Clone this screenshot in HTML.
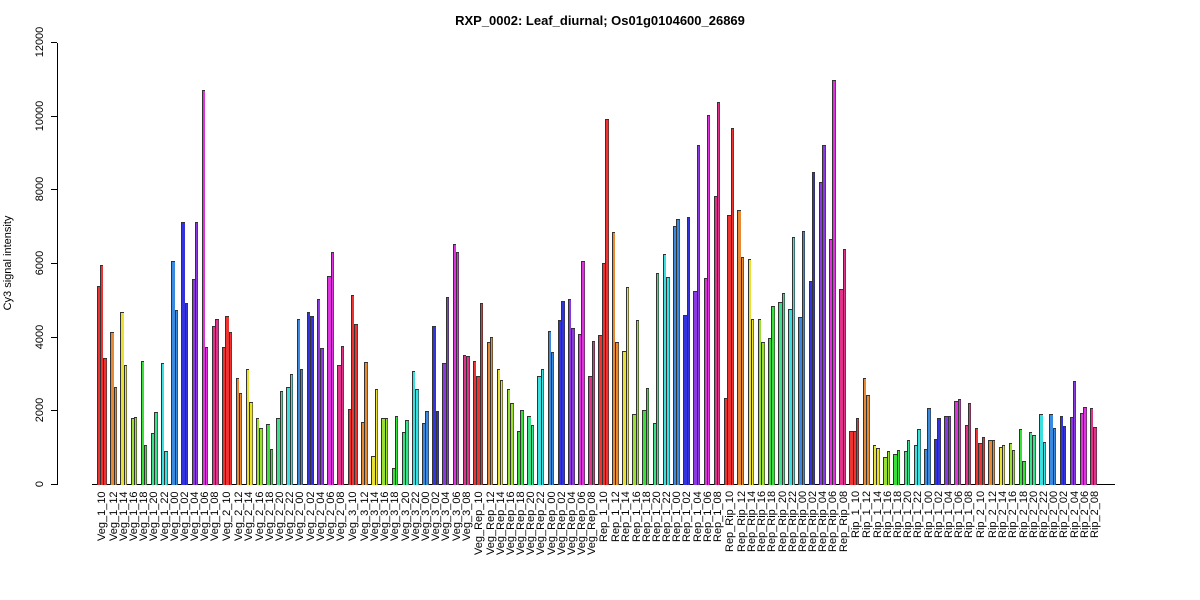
<!DOCTYPE html>
<html><head><meta charset="utf-8"><style>
body{margin:0;width:1200px;height:600px;background:#fff;position:relative;overflow:hidden;font-family:"Liberation Sans",Arial,sans-serif;}
.title{position:absolute;top:13px;left:0;width:1200px;text-align:center;font-weight:bold;font-size:13px;color:#000}
.ylab{position:absolute;left:8px;top:263px;transform:translate(-50%,-50%) rotate(-90deg);font-size:11px;white-space:nowrap}
.yaxis{position:absolute;left:57px;top:43px;width:1px;height:442px;background:#000}
.tick{position:absolute;left:51px;width:6px;height:1px;background:#000}
.tl{position:absolute;left:40px;font-size:11px;transform:translate(-50%,-50%) rotate(-90deg);white-space:nowrap}
.base{position:absolute;left:92px;top:484px;width:1023px;height:1px;background:#000}
#bars{position:absolute;left:96.6px;top:0;height:485px;display:flex;align-items:flex-end}
.g{display:flex;align-items:flex-end;margin-right:3.4px;flex:none}
.g i{display:block;flex:none;width:3.4px;height:calc(var(--v) * 0.03683px);box-shadow:inset 1px 1px 0 #333}
.g i:last-child{box-shadow:inset 1px 1px 0 #333,inset -0.6px 0 0 #333}
#labs{position:absolute;left:96.6px;top:491px;display:flex}
.l{display:flex;justify-content:center;margin-right:3.4px;width:6.8px;flex:none}
.l.t{width:10.2px}
.l span{display:block;writing-mode:vertical-rl;transform:rotate(180deg);height:100px;text-align:right;font-size:11px;line-height:12px;width:12px;flex:none;white-space:nowrap}
.c0{background:#ee3333}.c1{background:#e88a33}.c2{background:#e8e033}.c3{background:#99e033}.c4{background:#3ae03a}.c5{background:#3ae08a}.c6{background:#3ae0e0}.c7{background:#3a8ae0}.c8{background:#3333e0}.c9{background:#8a3ae0}.c10{background:#e033e0}.c11{background:#e0338a}
</style></head><body>
<div class="title">RXP_0002: Leaf_diurnal; Os01g0104600_26869</div>
<div class="ylab">Cy3 signal intensity</div>
<div class="yaxis"></div>
<div class="tick" style="top:484px"></div><div class="tick" style="top:410.3px"></div><div class="tick" style="top:336.7px"></div><div class="tick" style="top:263px"></div><div class="tick" style="top:189.3px"></div><div class="tick" style="top:115.7px"></div><div class="tick" style="top:42px"></div>
<div class="tl" style="top:484px">0</div><div class="tl" style="top:410.3px">2000</div><div class="tl" style="top:336.7px">4000</div><div class="tl" style="top:263px">6000</div><div class="tl" style="top:189.3px">8000</div><div class="tl" style="top:115.7px">10000</div><div class="tl" style="top:42px">12000</div>
<div class="base"></div>
<div id="bars">
<div class="g"><i class="c0" style="--v:5400"></i><i class="c0" style="--v:5970"></i><i class="c0" style="--v:3450"></i></div>
<div class="g"><i class="c1" style="--v:4150"></i><i class="c1" style="--v:2650"></i></div>
<div class="g"><i class="c2" style="--v:4700"></i><i class="c2" style="--v:3250"></i></div>
<div class="g"><i class="c3" style="--v:1820"></i><i class="c3" style="--v:1850"></i></div>
<div class="g"><i class="c4" style="--v:3380"></i><i class="c4" style="--v:1100"></i></div>
<div class="g"><i class="c5" style="--v:1400"></i><i class="c5" style="--v:1980"></i></div>
<div class="g"><i class="c6" style="--v:3300"></i><i class="c6" style="--v:920"></i></div>
<div class="g"><i class="c7" style="--v:6080"></i><i class="c7" style="--v:4750"></i></div>
<div class="g"><i class="c8" style="--v:7130"></i><i class="c8" style="--v:4930"></i></div>
<div class="g"><i class="c9" style="--v:5600"></i><i class="c9" style="--v:7150"></i></div>
<div class="g"><i class="c10" style="--v:10720"></i><i class="c10" style="--v:3750"></i></div>
<div class="g"><i class="c11" style="--v:4320"></i><i class="c11" style="--v:4500"></i></div>
<div class="g"><i class="c0" style="--v:3750"></i><i class="c0" style="--v:4600"></i><i class="c0" style="--v:4150"></i></div>
<div class="g"><i class="c1" style="--v:2900"></i><i class="c1" style="--v:2500"></i></div>
<div class="g"><i class="c2" style="--v:3150"></i><i class="c2" style="--v:2250"></i></div>
<div class="g"><i class="c3" style="--v:1830"></i><i class="c3" style="--v:1550"></i></div>
<div class="g"><i class="c4" style="--v:1650"></i><i class="c4" style="--v:980"></i></div>
<div class="g"><i class="c5" style="--v:1820"></i><i class="c5" style="--v:2550"></i></div>
<div class="g"><i class="c6" style="--v:2650"></i><i class="c6" style="--v:3020"></i></div>
<div class="g"><i class="c7" style="--v:4500"></i><i class="c7" style="--v:3150"></i></div>
<div class="g"><i class="c8" style="--v:4700"></i><i class="c8" style="--v:4580"></i></div>
<div class="g"><i class="c9" style="--v:5050"></i><i class="c9" style="--v:3730"></i></div>
<div class="g"><i class="c10" style="--v:5680"></i><i class="c10" style="--v:6320"></i></div>
<div class="g"><i class="c11" style="--v:3270"></i><i class="c11" style="--v:3770"></i></div>
<div class="g"><i class="c0" style="--v:2070"></i><i class="c0" style="--v:5150"></i><i class="c0" style="--v:4380"></i></div>
<div class="g"><i class="c1" style="--v:1720"></i><i class="c1" style="--v:3330"></i></div>
<div class="g"><i class="c2" style="--v:780"></i><i class="c2" style="--v:2600"></i></div>
<div class="g"><i class="c3" style="--v:1830"></i><i class="c3" style="--v:1820"></i></div>
<div class="g"><i class="c4" style="--v:450"></i><i class="c4" style="--v:1870"></i></div>
<div class="g"><i class="c5" style="--v:1440"></i><i class="c5" style="--v:1760"></i></div>
<div class="g"><i class="c6" style="--v:3100"></i><i class="c6" style="--v:2600"></i></div>
<div class="g"><i class="c7" style="--v:1690"></i><i class="c7" style="--v:2000"></i></div>
<div class="g"><i class="c8" style="--v:4330"></i><i class="c8" style="--v:2000"></i></div>
<div class="g"><i class="c9" style="--v:3320"></i><i class="c9" style="--v:5100"></i></div>
<div class="g"><i class="c10" style="--v:6550"></i><i class="c10" style="--v:6340"></i></div>
<div class="g"><i class="c11" style="--v:3540"></i><i class="c11" style="--v:3500"></i></div>
<div class="g"><i class="c0" style="--v:3380"></i><i class="c0" style="--v:2970"></i><i class="c0" style="--v:4950"></i></div>
<div class="g"><i class="c1" style="--v:3880"></i><i class="c1" style="--v:4020"></i></div>
<div class="g"><i class="c2" style="--v:3140"></i><i class="c2" style="--v:2860"></i></div>
<div class="g"><i class="c3" style="--v:2620"></i><i class="c3" style="--v:2230"></i></div>
<div class="g"><i class="c4" style="--v:1470"></i><i class="c4" style="--v:2040"></i></div>
<div class="g"><i class="c5" style="--v:1880"></i><i class="c5" style="--v:1640"></i></div>
<div class="g"><i class="c6" style="--v:2970"></i><i class="c6" style="--v:3140"></i></div>
<div class="g"><i class="c7" style="--v:4170"></i><i class="c7" style="--v:3620"></i></div>
<div class="g"><i class="c8" style="--v:4470"></i><i class="c8" style="--v:5000"></i></div>
<div class="g"><i class="c9" style="--v:5050"></i><i class="c9" style="--v:4260"></i></div>
<div class="g"><i class="c10" style="--v:4100"></i><i class="c10" style="--v:6080"></i></div>
<div class="g"><i class="c11" style="--v:2960"></i><i class="c11" style="--v:3900"></i></div>
<div class="g"><i class="c0" style="--v:4080"></i><i class="c0" style="--v:6030"></i><i class="c0" style="--v:9950"></i></div>
<div class="g"><i class="c1" style="--v:6880"></i><i class="c1" style="--v:3870"></i></div>
<div class="g"><i class="c2" style="--v:3650"></i><i class="c2" style="--v:5380"></i></div>
<div class="g"><i class="c3" style="--v:1920"></i><i class="c3" style="--v:4490"></i></div>
<div class="g"><i class="c4" style="--v:2030"></i><i class="c4" style="--v:2630"></i></div>
<div class="g"><i class="c5" style="--v:1680"></i><i class="c5" style="--v:5770"></i></div>
<div class="g"><i class="c6" style="--v:6280"></i><i class="c6" style="--v:5640"></i></div>
<div class="g"><i class="c7" style="--v:7030"></i><i class="c7" style="--v:7210"></i></div>
<div class="g"><i class="c8" style="--v:4620"></i><i class="c8" style="--v:7290"></i></div>
<div class="g"><i class="c9" style="--v:5280"></i><i class="c9" style="--v:9220"></i></div>
<div class="g"><i class="c10" style="--v:5630"></i><i class="c10" style="--v:10040"></i></div>
<div class="g"><i class="c11" style="--v:7840"></i><i class="c11" style="--v:10410"></i></div>
<div class="g"><i class="c0" style="--v:2370"></i><i class="c0" style="--v:7330"></i><i class="c0" style="--v:9700"></i></div>
<div class="g"><i class="c1" style="--v:7470"></i><i class="c1" style="--v:6190"></i></div>
<div class="g"><i class="c2" style="--v:6140"></i><i class="c2" style="--v:4500"></i></div>
<div class="g"><i class="c3" style="--v:4500"></i><i class="c3" style="--v:3870"></i></div>
<div class="g"><i class="c4" style="--v:3980"></i><i class="c4" style="--v:4850"></i></div>
<div class="g"><i class="c5" style="--v:4960"></i><i class="c5" style="--v:5200"></i></div>
<div class="g"><i class="c6" style="--v:4770"></i><i class="c6" style="--v:6740"></i></div>
<div class="g"><i class="c7" style="--v:4550"></i><i class="c7" style="--v:6900"></i></div>
<div class="g"><i class="c8" style="--v:5540"></i><i class="c8" style="--v:8510"></i></div>
<div class="g"><i class="c9" style="--v:8240"></i><i class="c9" style="--v:9240"></i></div>
<div class="g"><i class="c10" style="--v:6680"></i><i class="c10" style="--v:11000"></i></div>
<div class="g"><i class="c11" style="--v:5320"></i><i class="c11" style="--v:6410"></i></div>
<div class="g"><i class="c0" style="--v:1480"></i><i class="c0" style="--v:1480"></i><i class="c0" style="--v:1810"></i></div>
<div class="g"><i class="c1" style="--v:2900"></i><i class="c1" style="--v:2450"></i></div>
<div class="g"><i class="c2" style="--v:1100"></i><i class="c2" style="--v:1010"></i></div>
<div class="g"><i class="c3" style="--v:770"></i><i class="c3" style="--v:920"></i></div>
<div class="g"><i class="c4" style="--v:850"></i><i class="c4" style="--v:950"></i></div>
<div class="g"><i class="c5" style="--v:920"></i><i class="c5" style="--v:1210"></i></div>
<div class="g"><i class="c6" style="--v:1080"></i><i class="c6" style="--v:1520"></i></div>
<div class="g"><i class="c7" style="--v:980"></i><i class="c7" style="--v:2100"></i></div>
<div class="g"><i class="c8" style="--v:1250"></i><i class="c8" style="--v:1820"></i></div>
<div class="g"><i class="c9" style="--v:1880"></i><i class="c9" style="--v:1880"></i></div>
<div class="g"><i class="c10" style="--v:2270"></i><i class="c10" style="--v:2330"></i></div>
<div class="g"><i class="c11" style="--v:1640"></i><i class="c11" style="--v:2240"></i></div>
<div class="g"><i class="c0" style="--v:1560"></i><i class="c0" style="--v:1150"></i><i class="c0" style="--v:1310"></i></div>
<div class="g"><i class="c1" style="--v:1210"></i><i class="c1" style="--v:1220"></i></div>
<div class="g"><i class="c2" style="--v:1020"></i><i class="c2" style="--v:1080"></i></div>
<div class="g"><i class="c3" style="--v:1150"></i><i class="c3" style="--v:950"></i></div>
<div class="g"><i class="c4" style="--v:1530"></i><i class="c4" style="--v:650"></i></div>
<div class="g"><i class="c5" style="--v:1450"></i><i class="c5" style="--v:1370"></i></div>
<div class="g"><i class="c6" style="--v:1940"></i><i class="c6" style="--v:1160"></i></div>
<div class="g"><i class="c7" style="--v:1940"></i><i class="c7" style="--v:1550"></i></div>
<div class="g"><i class="c8" style="--v:1880"></i><i class="c8" style="--v:1610"></i></div>
<div class="g"><i class="c9" style="--v:1850"></i><i class="c9" style="--v:2830"></i></div>
<div class="g"><i class="c10" style="--v:1960"></i><i class="c10" style="--v:2130"></i></div>
<div class="g"><i class="c11" style="--v:2080"></i><i class="c11" style="--v:1570"></i></div>
</div>
<div id="labs">
<div class="l t"><span>Veg_1_10</span></div><div class="l"><span>Veg_1_12</span></div><div class="l"><span>Veg_1_14</span></div><div class="l"><span>Veg_1_16</span></div><div class="l"><span>Veg_1_18</span></div><div class="l"><span>Veg_1_20</span></div><div class="l"><span>Veg_1_22</span></div><div class="l"><span>Veg_1_00</span></div><div class="l"><span>Veg_1_02</span></div><div class="l"><span>Veg_1_04</span></div><div class="l"><span>Veg_1_06</span></div><div class="l"><span>Veg_1_08</span></div>
<div class="l t"><span>Veg_2_10</span></div><div class="l"><span>Veg_2_12</span></div><div class="l"><span>Veg_2_14</span></div><div class="l"><span>Veg_2_16</span></div><div class="l"><span>Veg_2_18</span></div><div class="l"><span>Veg_2_20</span></div><div class="l"><span>Veg_2_22</span></div><div class="l"><span>Veg_2_00</span></div><div class="l"><span>Veg_2_02</span></div><div class="l"><span>Veg_2_04</span></div><div class="l"><span>Veg_2_06</span></div><div class="l"><span>Veg_2_08</span></div>
<div class="l t"><span>Veg_3_10</span></div><div class="l"><span>Veg_3_12</span></div><div class="l"><span>Veg_3_14</span></div><div class="l"><span>Veg_3_16</span></div><div class="l"><span>Veg_3_18</span></div><div class="l"><span>Veg_3_20</span></div><div class="l"><span>Veg_3_22</span></div><div class="l"><span>Veg_3_00</span></div><div class="l"><span>Veg_3_02</span></div><div class="l"><span>Veg_3_04</span></div><div class="l"><span>Veg_3_06</span></div><div class="l"><span>Veg_3_08</span></div>
<div class="l t"><span>Veg_Rep_10</span></div><div class="l"><span>Veg_Rep_12</span></div><div class="l"><span>Veg_Rep_14</span></div><div class="l"><span>Veg_Rep_16</span></div><div class="l"><span>Veg_Rep_18</span></div><div class="l"><span>Veg_Rep_20</span></div><div class="l"><span>Veg_Rep_22</span></div><div class="l"><span>Veg_Rep_00</span></div><div class="l"><span>Veg_Rep_02</span></div><div class="l"><span>Veg_Rep_04</span></div><div class="l"><span>Veg_Rep_06</span></div><div class="l"><span>Veg_Rep_08</span></div>
<div class="l t"><span>Rep_1_10</span></div><div class="l"><span>Rep_1_12</span></div><div class="l"><span>Rep_1_14</span></div><div class="l"><span>Rep_1_16</span></div><div class="l"><span>Rep_1_18</span></div><div class="l"><span>Rep_1_20</span></div><div class="l"><span>Rep_1_22</span></div><div class="l"><span>Rep_1_00</span></div><div class="l"><span>Rep_1_02</span></div><div class="l"><span>Rep_1_04</span></div><div class="l"><span>Rep_1_06</span></div><div class="l"><span>Rep_1_08</span></div>
<div class="l t"><span>Rep_Rip_10</span></div><div class="l"><span>Rep_Rip_12</span></div><div class="l"><span>Rep_Rip_14</span></div><div class="l"><span>Rep_Rip_16</span></div><div class="l"><span>Rep_Rip_18</span></div><div class="l"><span>Rep_Rip_20</span></div><div class="l"><span>Rep_Rip_22</span></div><div class="l"><span>Rep_Rip_00</span></div><div class="l"><span>Rep_Rip_02</span></div><div class="l"><span>Rep_Rip_04</span></div><div class="l"><span>Rep_Rip_06</span></div><div class="l"><span>Rep_Rip_08</span></div>
<div class="l t"><span>Rip_1_10</span></div><div class="l"><span>Rip_1_12</span></div><div class="l"><span>Rip_1_14</span></div><div class="l"><span>Rip_1_16</span></div><div class="l"><span>Rip_1_18</span></div><div class="l"><span>Rip_1_20</span></div><div class="l"><span>Rip_1_22</span></div><div class="l"><span>Rip_1_00</span></div><div class="l"><span>Rip_1_02</span></div><div class="l"><span>Rip_1_04</span></div><div class="l"><span>Rip_1_06</span></div><div class="l"><span>Rip_1_08</span></div>
<div class="l t"><span>Rip_2_10</span></div><div class="l"><span>Rip_2_12</span></div><div class="l"><span>Rip_2_14</span></div><div class="l"><span>Rip_2_16</span></div><div class="l"><span>Rip_2_18</span></div><div class="l"><span>Rip_2_20</span></div><div class="l"><span>Rip_2_22</span></div><div class="l"><span>Rip_2_00</span></div><div class="l"><span>Rip_2_02</span></div><div class="l"><span>Rip_2_04</span></div><div class="l"><span>Rip_2_06</span></div><div class="l"><span>Rip_2_08</span></div>
</div>
</body></html>
